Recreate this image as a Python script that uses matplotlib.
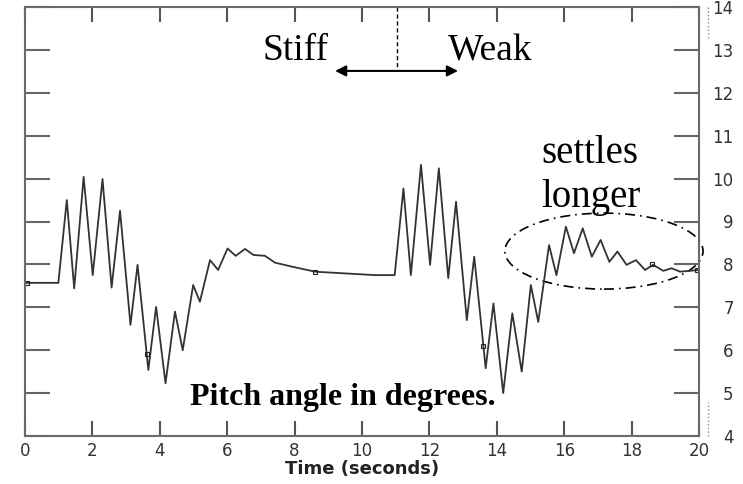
import matplotlib
matplotlib.use("Agg")
import matplotlib.pyplot as plt
from matplotlib.patches import Ellipse

# pitch angle trace (peaks/troughs)
t = [0.0, 0.99, 1.24, 1.46, 1.74, 2.01, 2.30, 2.57, 2.82, 3.13, 3.34, 3.66, 3.89, 4.17,
     4.45, 4.68, 4.99, 5.19, 5.49, 5.73, 6.01, 6.25, 6.53, 6.78, 7.12, 7.42, 7.91, 8.61,
     9.50, 10.39, 10.97, 11.23, 11.45, 11.75, 12.02, 12.28, 12.56, 12.79, 13.11, 13.33,
     13.67, 13.90, 14.19, 14.46, 14.74, 15.01, 15.23, 15.55, 15.77, 16.05, 16.29, 16.55,
     16.82, 17.08, 17.34, 17.58, 17.85, 18.13, 18.40, 18.64, 18.94, 19.19, 19.44, 20.0]
pitch = [7.57, 7.57, 9.50, 7.44, 10.04, 7.75, 9.99, 7.46, 9.25, 6.59, 7.99, 5.54, 7.01, 5.23,
         6.90, 6.00, 7.52, 7.13, 8.10, 7.87, 8.37, 8.20, 8.36, 8.22, 8.20, 8.04, 7.95, 7.83,
         7.79, 7.75, 7.75, 9.77, 7.75, 10.32, 7.99, 10.24, 7.68, 9.46, 6.70, 8.18,
         5.58, 7.09, 5.00, 6.86, 5.50, 7.52, 6.66, 8.45, 7.75, 8.88, 8.26, 8.84,
         8.18, 8.57, 8.06, 8.30, 7.99, 8.10, 7.87, 7.99, 7.85, 7.91, 7.83, 7.87]

# little tick marks sitting on the trace
mark_t = [0.05, 3.62, 8.6, 13.6, 18.6, 19.95]
mark_v = [7.57, 5.9, 7.83, 6.1, 8.0, 7.87]

xticks = [0, 2, 4, 6, 8, 10, 12, 14, 16, 18, 20]
yticks = [4, 5, 6, 7, 8, 9, 10, 11, 12, 13, 14]

fig = plt.figure(figsize=(7.43, 4.84), dpi=100)
ax = fig.add_axes([25/743, 1-436/484, 674/743, 429/484])

ax.plot(t, pitch, color="#333333", lw=1.3)
ax.plot(mark_t, mark_v, ls="none", marker="s", ms=2.5, mfc="none", mec="#222222", mew=0.8)

ax.set_xlim(0, 20)
ax.set_ylim(4, 14)
ax.set_xticks(xticks)
ax.set_yticks(yticks)
for s in ax.spines.values():
    s.set_color("#6a6a6a")
    s.set_linewidth(1.5)

ax.tick_params(axis="x", which="both", direction="in", top=True, bottom=True,
               length=11, width=1.5, color="#555555", labelsize=12,
               labelcolor="#333333", pad=4)
ax.tick_params(axis="y", which="both", direction="in", left=True, right=True,
               labelleft=False, labelright=True, length=18, width=1.5,
               color="#666666", labelsize=12, labelcolor="#333333", pad=25)
for lab in ax.get_yticklabels():
    lab.set_horizontalalignment("right")

ax.set_xlabel("Time (seconds)", fontsize=13, fontweight="bold", color="#222222", labelpad=0)

# stiff / weak annotation
ax.plot([11.03, 11.03], [14, 12.55], color="black", lw=1, ls=(0, (3, 2)))
ax.annotate("", xy=(9.2, 12.51), xytext=(12.85, 12.51),
            arrowprops=dict(arrowstyle="<|-|>", color="black", lw=1.5,
                            mutation_scale=16, shrinkA=0, shrinkB=0))
ax.text(7.06, 12.76, "Stiff", family="Liberation Serif", fontsize=27, ha="left", va="baseline")
ax.text(12.55, 12.76, "Weak", family="Liberation Serif", fontsize=27, ha="left", va="baseline")

ax.text(16.77, 10.36, "settles", family="Liberation Serif", fontsize=28, ha="center", va="baseline")
ax.text(16.8, 9.34, "longer", family="Liberation Serif", fontsize=28, ha="center", va="baseline")
ax.add_patch(Ellipse((17.18, 8.31), 5.88, 1.77, fill=False, ec="black", lw=1.2,
                     ls=(0, (6, 3, 1, 3)), clip_on=False))

ax.text(4.9, 4.72, "Pitch angle in degrees.", family="Liberation Serif", fontsize=23,
        fontweight="bold", ha="left", va="baseline")

# faint dotted stubs beside the right axis
ax.plot([1.013, 1.013], [14, 13.28], transform=ax.get_yaxis_transform(), color="#888888",
        lw=1, ls=":", clip_on=False)
ax.plot([1.013, 1.013], [4, 4.8], transform=ax.get_yaxis_transform(), color="#888888",
        lw=1, ls=":", clip_on=False)

fig.savefig("out.png", dpi=100)
